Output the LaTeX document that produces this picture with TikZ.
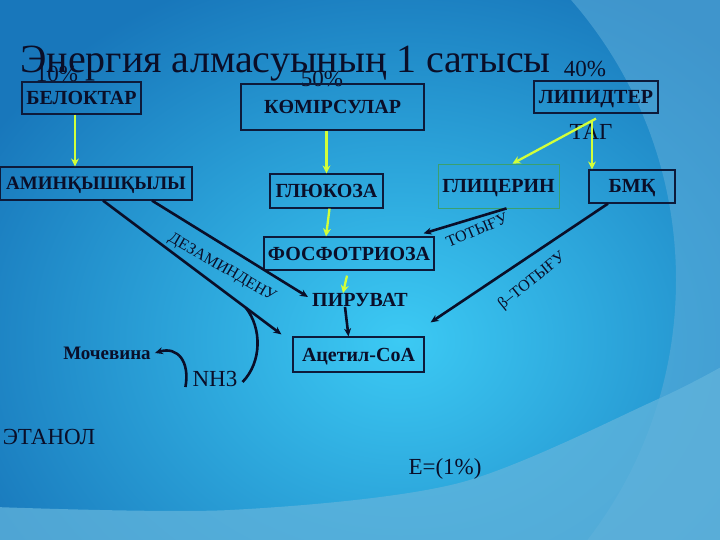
\documentclass[tikz,border=0pt]{standalone}
\usepackage{fontspec}
\setmainfont{Liberation Serif}
\usetikzlibrary{arrows.meta}
\definecolor{bgbase}{HTML}{1877BB}
\definecolor{bgin}{HTML}{3CCAF4}
\definecolor{bgright}{HTML}{5AAAD8}
\definecolor{bgbottom}{HTML}{62B4DC}
\definecolor{ink}{HTML}{0A0E28}
\definecolor{boxline}{HTML}{0D1A3A}
\definecolor{greenline}{HTML}{3AA070}
\definecolor{yel}{HTML}{D2FF3A}
\tikzset{
  box/.style={draw=boxline, line width=1.2pt, text=ink, inner sep=0pt,
    text height=13pt, text depth=0pt,
    font=\fontsize{20}{23}\selectfont\bfseries},
  btext/.style={text=ink, inner sep=0pt, font=\fontsize{20}{23}\selectfont\bfseries},
  lbl/.style={text=ink, inner sep=0pt, font=\fontsize{23}{26}\selectfont},
  rlbl/.style={text=ink, inner sep=0pt, font=\fontsize{16}{18}\selectfont},
  blk/.style={draw=ink, line width=2.6pt, -{Stealth[length=8pt,width=7pt]}},
  ylw/.style={draw=yel, line width=2.3pt, -{Stealth[length=8pt,width=8pt]}}
}
\begin{document}
\begin{tikzpicture}[x=1pt,y=-1pt]
\useasboundingbox (0,0) rectangle (720,540);
% background
\fill[bgbase] (0,0) rectangle (720,540);
\begin{scope}
\clip (0,0) rectangle (720,540);
\shade[inner color=bgin, outer color=bgbase] (400,340) ellipse (480pt and 390pt);
\fill[bgright, opacity=0.6, even odd rule] (-10,-10) rectangle (730,550) (250,280) circle (426pt);
\fill[bgbottom, opacity=0.75] plot[smooth] coordinates {(-5,507) (230,510) (459,483) (656,400) (730,362)} -- (730,550) -- (-5,550) -- cycle;
\end{scope}

% title and percent labels
\node[lbl, anchor=base] (p10) at (57,82) {10\%};
\node[lbl, anchor=base] (p50) at (322,87) {50\%};
\node[lbl, anchor=base] (p40) at (585,77) {40\%};
\node[text=ink, inner sep=0pt, anchor=base west, font=\fontsize{40}{46}\selectfont] (title) at (20,73) {Энергия алмасуының 1 сатысы};
\node[lbl, anchor=base] (tag) at (591,140) {ТАГ};

% boxes
\node[box, minimum width=119pt, minimum height=32pt] (belok) at (81.5,98) {БЕЛОКТАР};
\node[box, minimum width=183pt, minimum height=46pt] (komir) at (332.5,107) {КӨМІРСУЛАР};
\node[box, minimum width=124pt, minimum height=32pt] (lipid) at (596,97) {ЛИПИДТЕР};
\node[box, font=\fontsize{19}{22}\selectfont\bfseries, minimum width=192pt, minimum height=33pt] (amin) at (96,183.5) {АМИНҚЫШҚЫЛЫ};
\node[box, minimum width=113pt, minimum height=34pt] (gluk) at (326.5,191) {ГЛЮКОЗА};
\node[box, draw=greenline, line width=0.8pt, minimum width=121pt, minimum height=44pt] (glits) at (498.5,186) {ГЛИЦЕРИН};
\node[box, minimum width=86pt, minimum height=33pt] (bmk) at (632,186.5) {БМҚ};
\node[box, minimum width=170pt, minimum height=33pt] (fosf) at (349,253.5) {ФОСФОТРИОЗА};
\node[btext] (piruv) at (360,300) {ПИРУВАТ};
\node[box, minimum width=131pt, minimum height=35pt] (acetil) at (358.5,354.5) {Ацетил-СоА};
\node[btext, font=\fontsize{19}{22}\selectfont\bfseries] (moch) at (107,353) {Мочевина};
\node[lbl] (nh3) at (215,379) {NH3};
\node[lbl] (etanol) at (49,437) {ЭТАНОЛ};
\node[lbl] (e1) at (445,469) {E=(1\%)};

% rotated labels
\node[rlbl, rotate=-30] (dez) at (222,268) {ДЕЗАМИНДЕНУ};
\node[rlbl, rotate=23] (tot1) at (477,230) {ТОТЫҒУ};
\node[rlbl, rotate=39] (tot2) at (532,281) {β–ТОТЫҒУ};

% yellow arrows
\coordinate (tagpt) at ([yshift=-5pt]lipid.south);
\draw[ylw] ([xshift=-6.5pt]belok.south) -- ([xshift=-6.5pt]belok.south |- amin.north);
\draw[ylw] ([xshift=-6pt]komir.south) -- (gluk.north);
\draw[ylw] ([xshift=3pt]gluk.south) -- ([xshift=-23pt]fosf.north);
\draw[ylw] ([xshift=-2pt,yshift=-5pt]fosf.south) -- ([xshift=-17pt]piruv.north);
\draw[ylw] (tagpt) -- ([xshift=14pt]glits.north);
\draw[ylw] ([xshift=-4pt,yshift=-2pt]tagpt) -- ([xshift=-40pt]bmk.north);

% black arrows
\draw[blk] ([xshift=56pt]amin.south) -- ([xshift=-4pt,yshift=3pt]piruv.west);
\draw[blk] ([xshift=7pt]amin.south) -- coordinate[pos=0.8] (branch) ([xshift=-11pt,yshift=2pt]acetil.north west);
\draw[blk] ([xshift=-15pt]piruv.south) -- ([xshift=-10pt]acetil.north);
\draw[blk] ([xshift=8pt]glits.south) -- ([xshift=-11pt,yshift=3pt]fosf.north east);
\draw[blk] ([xshift=-24pt]bmk.south) -- ([xshift=6pt,yshift=14pt]acetil.north east);
\draw[draw=ink, line width=2.6pt] (branch) .. controls (262,328) and (262,362) .. ([xshift=5pt,yshift=-3pt]nh3.east);
\draw[blk] ([xshift=-7pt,yshift=-8pt]nh3.west) .. controls (190,362) and (178,346) .. ([xshift=4pt]moch.east);
\end{tikzpicture}
\end{document}
